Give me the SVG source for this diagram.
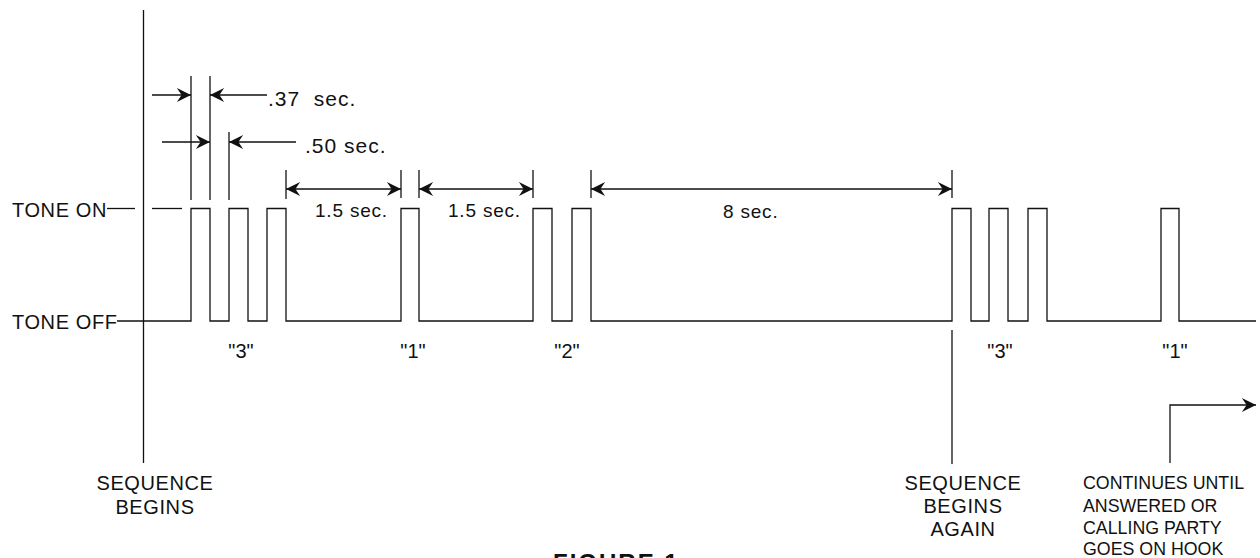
<svg xmlns="http://www.w3.org/2000/svg" width="1260" height="558" viewBox="0 0 1260 558">
<style>
  .ln{stroke:#111;stroke-width:1.3;fill:none}
  .dim{stroke:#111;stroke-width:1.3;fill:none}
  .t{font-family:"Liberation Sans",Arial,sans-serif;fill:#111}
  .lab{font-size:20px;letter-spacing:0.6px}
  .big{font-size:21px;letter-spacing:1px}
  .mid{font-size:19px;letter-spacing:0.8px}
  .q{font-size:20px;text-anchor:middle}
  .cap{font-size:20px;letter-spacing:0.6px;text-anchor:middle}
  .cont{font-size:17.8px}
  .fig{font-size:24px;font-weight:bold;letter-spacing:2px}
</style>
<defs>
  <marker id="ah" markerUnits="userSpaceOnUse" markerWidth="16" markerHeight="16" viewBox="-16 -8 17 16" refX="0" refY="0" orient="auto">
    <path d="M0,0 L-15,-7.5 L-10,0 L-15,7.5 Z" fill="#111"/>
  </marker>
  <marker id="ahs" markerUnits="userSpaceOnUse" markerWidth="16" markerHeight="16" viewBox="-16 -8 17 16" refX="0" refY="0" orient="auto-start-reverse">
    <path d="M0,0 L-15,-7.5 L-10,0 L-15,7.5 Z" fill="#111"/>
  </marker>
</defs>

<g id="axes">
  <line class="ln" x1="143.5" y1="10" x2="143.5" y2="463"/>
  <line class="ln" x1="107" y1="208.5" x2="135" y2="208.5"/>
  <line class="ln" x1="152" y1="208.5" x2="182" y2="208.5"/>
</g>

<g id="waveform">
  <path class="ln" d="M117,321 H191 V208.5 H210 V321 H229 V208.5 H248 V321 H267 V208.5 H286 V321 H401 V208.5 H419 V321 H533 V208.5 H552 V321 H572 V208.5 H591 V321 H952 V208.5 H971 V321 H989 V208.5 H1008 V321 H1028 V208.5 H1047 V321 H1161 V208.5 H1179 V321 H1256"/>
</g>

<g id="connectors">
  <line class="dim" x1="191" y1="76" x2="191" y2="200"/>
  <line class="dim" x1="210" y1="76" x2="210" y2="200"/>
  <line class="dim" x1="229" y1="132" x2="229" y2="200"/>
  <line class="dim" x1="286" y1="170" x2="286" y2="199"/>
  <line class="dim" x1="401" y1="170" x2="401" y2="198"/>
  <line class="dim" x1="419" y1="170" x2="419" y2="198"/>
  <line class="dim" x1="533" y1="170" x2="533" y2="198"/>
  <line class="dim" x1="591" y1="170" x2="591" y2="198"/>
  <line class="dim" x1="952" y1="170" x2="952" y2="198"/>
  <line class="dim" x1="152" y1="95" x2="191" y2="95" marker-end="url(#ah)"/>
  <line class="dim" x1="267" y1="95" x2="210" y2="95" marker-end="url(#ah)"/>
  <line class="dim" x1="162" y1="142" x2="210" y2="142" marker-end="url(#ah)"/>
  <line class="dim" x1="296" y1="142" x2="229" y2="142" marker-end="url(#ah)"/>
  <line class="dim" x1="286" y1="189" x2="401" y2="189" marker-start="url(#ahs)" marker-end="url(#ah)"/>
  <line class="dim" x1="419" y1="189" x2="533" y2="189" marker-start="url(#ahs)" marker-end="url(#ah)"/>
  <line class="dim" x1="591" y1="189" x2="952" y2="189" marker-start="url(#ahs)" marker-end="url(#ah)"/>
  <line class="ln" x1="952" y1="330" x2="952" y2="464"/>
  <path class="ln" d="M1170,463 V405 H1256" marker-end="url(#ah)"/>
</g>

<g id="labels">
  <text class="t lab" x="12" y="216.5">TONE ON</text>
  <text class="t lab" x="12" y="329">TONE OFF</text>
  <text class="t big" x="268" y="106">.37&#160; sec.</text>
  <text class="t big" x="305" y="153">.50 sec.</text>
  <text class="t mid" x="315" y="217">1.5 sec.</text>
  <text class="t mid" x="448" y="217">1.5 sec.</text>
  <text class="t mid" x="723" y="218">8 sec.</text>
</g>

<g id="digits">
  <text class="t q" x="241" y="358">"3"</text>
  <text class="t q" x="413" y="358">"1"</text>
  <text class="t q" x="567" y="358">"2"</text>
  <text class="t q" x="1000" y="358">"3"</text>
  <text class="t q" x="1175" y="358">"1"</text>
</g>

<g id="seq-begins">
  <text class="t cap" x="155" y="490">SEQUENCE</text>
  <text class="t cap" x="155" y="514">BEGINS</text>
</g>

<g id="seq-again">
  <text class="t cap" x="963" y="490">SEQUENCE</text>
  <text class="t cap" x="963" y="513">BEGINS</text>
  <text class="t cap" x="963" y="536">AGAIN</text>
</g>

<g id="continues">
  <text class="t cont" x="1083" y="489">CONTINUES UNTIL</text>
  <text class="t cont" x="1083" y="511.5">ANSWERED OR</text>
  <text class="t cont" x="1083" y="533.5">CALLING PARTY</text>
  <text class="t cont" x="1083" y="555">GOES ON HOOK</text>
</g>

<g id="title">
  <text class="t fig" x="553" y="570.5">FIGURE 1</text>
</g>
</svg>
